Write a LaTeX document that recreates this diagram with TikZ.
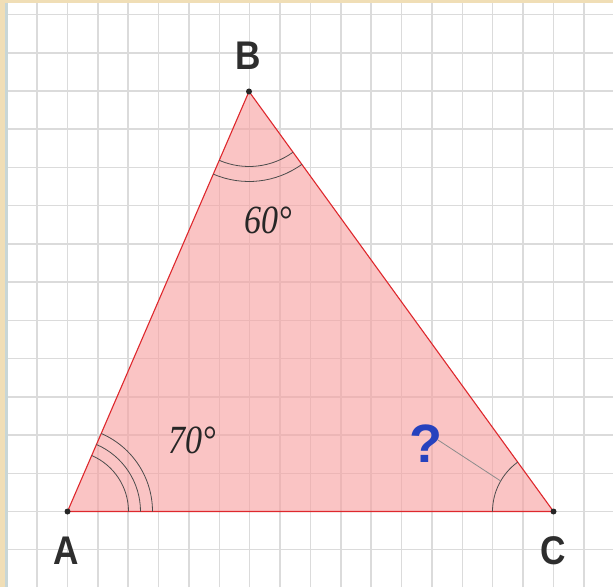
\documentclass[tikz,border=0pt]{standalone}
\usepackage{fontspec}
\setmainfont{Liberation Serif}
\newfontfamily\labfont{Liberation Sans}
\usetikzlibrary{calc}
\definecolor{beige}{RGB}{240,222,182}
\definecolor{edgegray}{RGB}{200,214,214}
\definecolor{pinkfill}{RGB}{248,160,160}
\definecolor{edgered}{RGB}{222,40,45}
\definecolor{qblue}{RGB}{38,66,190}
\begin{document}
\begin{tikzpicture}[x=1pt,y=1pt,
  gridline/.style={draw=black!14,line width=1.5pt},
  tri/.style={fill=pinkfill,fill opacity=0.62},
  edge/.style={draw=edgered,line width=1.1pt},
  anglearc/.style={draw=black!70,line width=0.8pt},
  vlabel/.style={font=\labfont\bfseries\fontsize{40}{40}\selectfont,text=black!82,inner sep=0pt},
  alabel/.style={font=\itshape\fontsize{40}{40}\selectfont,text=black!85,inner sep=0pt},
  dot/.style={circle,fill=black!85,inner sep=0pt,minimum size=6pt}]
\useasboundingbox (0,0) rectangle (613,587);
% background
\fill[white] (0,0) rectangle (613,587);
\fill[beige] (0,0) rectangle (5,587);
\fill[beige] (0,584) rectangle (613,587);
\fill[edgegray] (5,0) rectangle (7.5,584);
% grid
\foreach \k in {0,...,18} {
  \draw[gridline] ({37.1+30.375*\k},0) -- ({37.1+30.375*\k},584);
}
\foreach \k in {0,...,14} {
  \draw[gridline] (7.5,{572.45-38.227*\k}) -- (613,{572.45-38.227*\k});
}
% vertices
\coordinate (A) at (67.5,75.5);
\coordinate (B) at (249,495.5);
\coordinate (C) at (553.5,75.5);
\fill[tri] (A) -- (B) -- (C) -- cycle;
\draw[edge] (A) -- (B) -- (C) -- cycle;
% angle arcs
\draw[anglearc] (A) ++(0:61) arc[start angle=0,end angle=66.6,radius=61];
\draw[anglearc] (A) ++(0:73) arc[start angle=0,end angle=66.6,radius=73];
\draw[anglearc] (A) ++(0:85) arc[start angle=0,end angle=66.6,radius=85];
\draw[anglearc] (B) ++(246.6:75) arc[start angle=246.6,end angle=306,radius=75];
\draw[anglearc] (B) ++(246.6:90) arc[start angle=246.6,end angle=306,radius=90];
\draw[anglearc] (C) ++(126:61) arc[start angle=126,end angle=180,radius=61];
\coordinate (cArc) at ($(C)+(150:61)$);
% points
\node[dot] (pA) at (A) {};
\node[dot] (pB) at (B) {};
\node[dot] (pC) at (C) {};
% labels
\node[vlabel] (lA) at (66.7,36) {\scalebox{0.88}[1]{A}};
\node[vlabel] (lB) at (248,531) {\scalebox{0.88}[1]{B}};
\node[vlabel] (lC) at (553,36) {\scalebox{0.88}[1]{C}};
\node[alabel] (a60) at (268,367) {\scalebox{0.85}[1]{60°}};
\node[alabel] (a70) at (192,147) {\scalebox{0.85}[1]{70°}};
\node[font=\labfont\bfseries\fontsize{54}{54}\selectfont,text=qblue,inner sep=0pt] (q) at (426,143) {?};
\coordinate (qEnd) at (438,147);
\draw[black!45,line width=0.8pt] (qEnd) -- (cArc);
\end{tikzpicture}
\end{document}
